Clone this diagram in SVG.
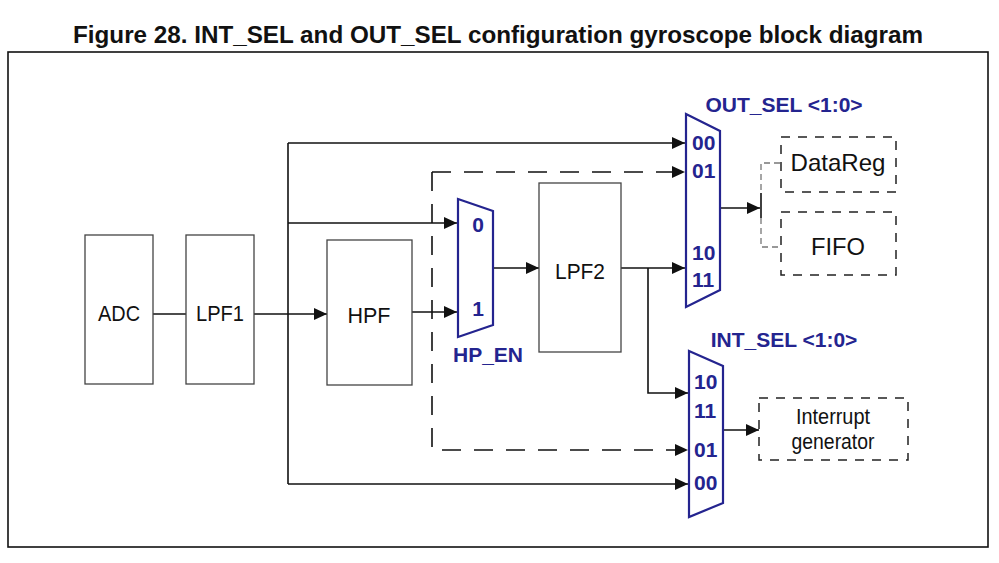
<svg xmlns="http://www.w3.org/2000/svg" width="999" height="563" viewBox="0 0 999 563">
<style>
.box{fill:#fff;stroke:#444;stroke-width:1.3}
.dbox{fill:#fff;stroke:#222;stroke-width:1.5;stroke-dasharray:9 8}
.mux{fill:#fff;stroke:#24248f;stroke-width:2.2;stroke-linejoin:miter}
.t{font-family:"Liberation Sans",Arial,sans-serif;font-size:22px;fill:#111;text-anchor:middle}
.tb{font-family:"Liberation Sans",Arial,sans-serif;font-size:24px;fill:#111;text-anchor:middle}
.bl{font-family:"Liberation Sans",Arial,sans-serif;font-weight:bold;font-size:21px;fill:#24248f}
.bll{font-family:"Liberation Sans",Arial,sans-serif;font-weight:bold;font-size:21px;fill:#24248f}
.w{fill:none;stroke:#111;stroke-width:1.6}
.wd{fill:none;stroke:#111;stroke-width:1.6;stroke-dasharray:19 13}
.g{fill:none;stroke:#777;stroke-width:1.3;stroke-dasharray:6 4}
</style>
<defs>
<marker id="ah" markerUnits="userSpaceOnUse" markerWidth="14" markerHeight="12" refX="13" refY="6" orient="auto">
<path d="M0,0 L13,6 L0,12 z" fill="#111"/>
</marker>
</defs>
<rect x="0" y="0" width="999" height="563" fill="#fff"/>
<text x="498" y="43" font-family="'Liberation Sans',Arial,sans-serif" font-weight="bold" font-size="24" text-anchor="middle" fill="#111" textLength="850" lengthAdjust="spacingAndGlyphs">Figure 28. INT_SEL and OUT_SEL configuration gyroscope block diagram</text>
<rect x="8" y="52" width="980" height="495" fill="none" stroke="#111" stroke-width="1.6"/>

<g id="connectors">
<path class="w" d="M153,314 H186"/>
<path class="w" d="M254,314 H327" marker-end="url(#ah)"/>
<path class="w" d="M288,143 V484"/>
<path class="w" d="M288,143 H685" marker-end="url(#ah)"/>
<path class="w" d="M288,223 H457" marker-end="url(#ah)"/>
<path class="w" d="M288,484 H688" marker-end="url(#ah)"/>
<path class="w" d="M412,312 H457" marker-end="url(#ah)"/>
<path class="w" d="M494,268 H539" marker-end="url(#ah)"/>
<path class="w" d="M621,268 H685" marker-end="url(#ah)"/>
<path class="w" d="M648,268 V393 H688" marker-end="url(#ah)"/>
<path class="wd" d="M432,172 H685" marker-end="url(#ah)"/>
<path class="wd" d="M432,172 V450 H688" marker-end="url(#ah)"/>
<path class="w" d="M721,208 H760" marker-end="url(#ah)"/>
<path class="w" d="M761,193 V218"/>
<path class="g" d="M780,163 H761 V193 M761,218 V247 H780"/>
<path class="w" d="M724,430 H759" marker-end="url(#ah)"/>
</g>

<g id="adc"><rect class="box" x="85" y="235" width="68" height="149"/><text class="t" x="119" y="321" textLength="42" lengthAdjust="spacingAndGlyphs">ADC</text></g>
<g id="lpf1"><rect class="box" x="186" y="235" width="68" height="149"/><text class="t" x="220" y="321" textLength="48" lengthAdjust="spacingAndGlyphs">LPF1</text></g>
<g id="hpf"><rect class="box" x="327" y="240" width="85" height="145"/><text class="t" x="369" y="323" textLength="43" lengthAdjust="spacingAndGlyphs">HPF</text></g>
<g id="lpf2"><rect class="box" x="539" y="183" width="82" height="169"/><text class="t" x="580" y="279" textLength="50" lengthAdjust="spacingAndGlyphs">LPF2</text></g>

<g id="hp_en">
<polygon class="mux" points="458,199 493,211 493,325 458,337"/>
<text class="bl" x="478" y="232" text-anchor="middle">0</text>
<text class="bl" x="478" y="316" text-anchor="middle">1</text>
<text class="bll" x="488" y="362" text-anchor="middle">HP_EN</text>
</g>

<g id="out_sel">
<polygon class="mux" points="686,114 720,131 720,290 686,307"/>
<text class="bll" x="784" y="112" text-anchor="middle">OUT_SEL &lt;1:0&gt;</text>
<text class="bl" x="692" y="150">00</text>
<text class="bl" x="692" y="178">01</text>
<text class="bl" x="692" y="260">10</text>
<text class="bl" x="692" y="287">11</text>
</g>

<g id="int_sel">
<polygon class="mux" points="689,351 723,366 723,503 689,517"/>
<text class="bll" x="784" y="347" text-anchor="middle">INT_SEL &lt;1:0&gt;</text>
<text class="bl" x="694" y="389">10</text>
<text class="bl" x="694" y="418">11</text>
<text class="bl" x="694" y="457">01</text>
<text class="bl" x="694" y="490">00</text>
</g>

<g id="datareg"><rect class="dbox" x="781" y="137" width="115" height="55"/><text class="tb" x="838" y="171" textLength="95" lengthAdjust="spacingAndGlyphs">DataReg</text></g>
<g id="fifo"><rect class="dbox" x="781" y="212" width="115" height="63"/><text class="tb" x="838" y="255" textLength="54" lengthAdjust="spacingAndGlyphs">FIFO</text></g>
<g id="interrupt"><rect class="dbox" x="759" y="398" width="149" height="62"/><text class="t" x="833" y="424" textLength="74" lengthAdjust="spacingAndGlyphs">Interrupt</text><text class="t" x="833" y="449" textLength="83" lengthAdjust="spacingAndGlyphs">generator</text></g>
</svg>
